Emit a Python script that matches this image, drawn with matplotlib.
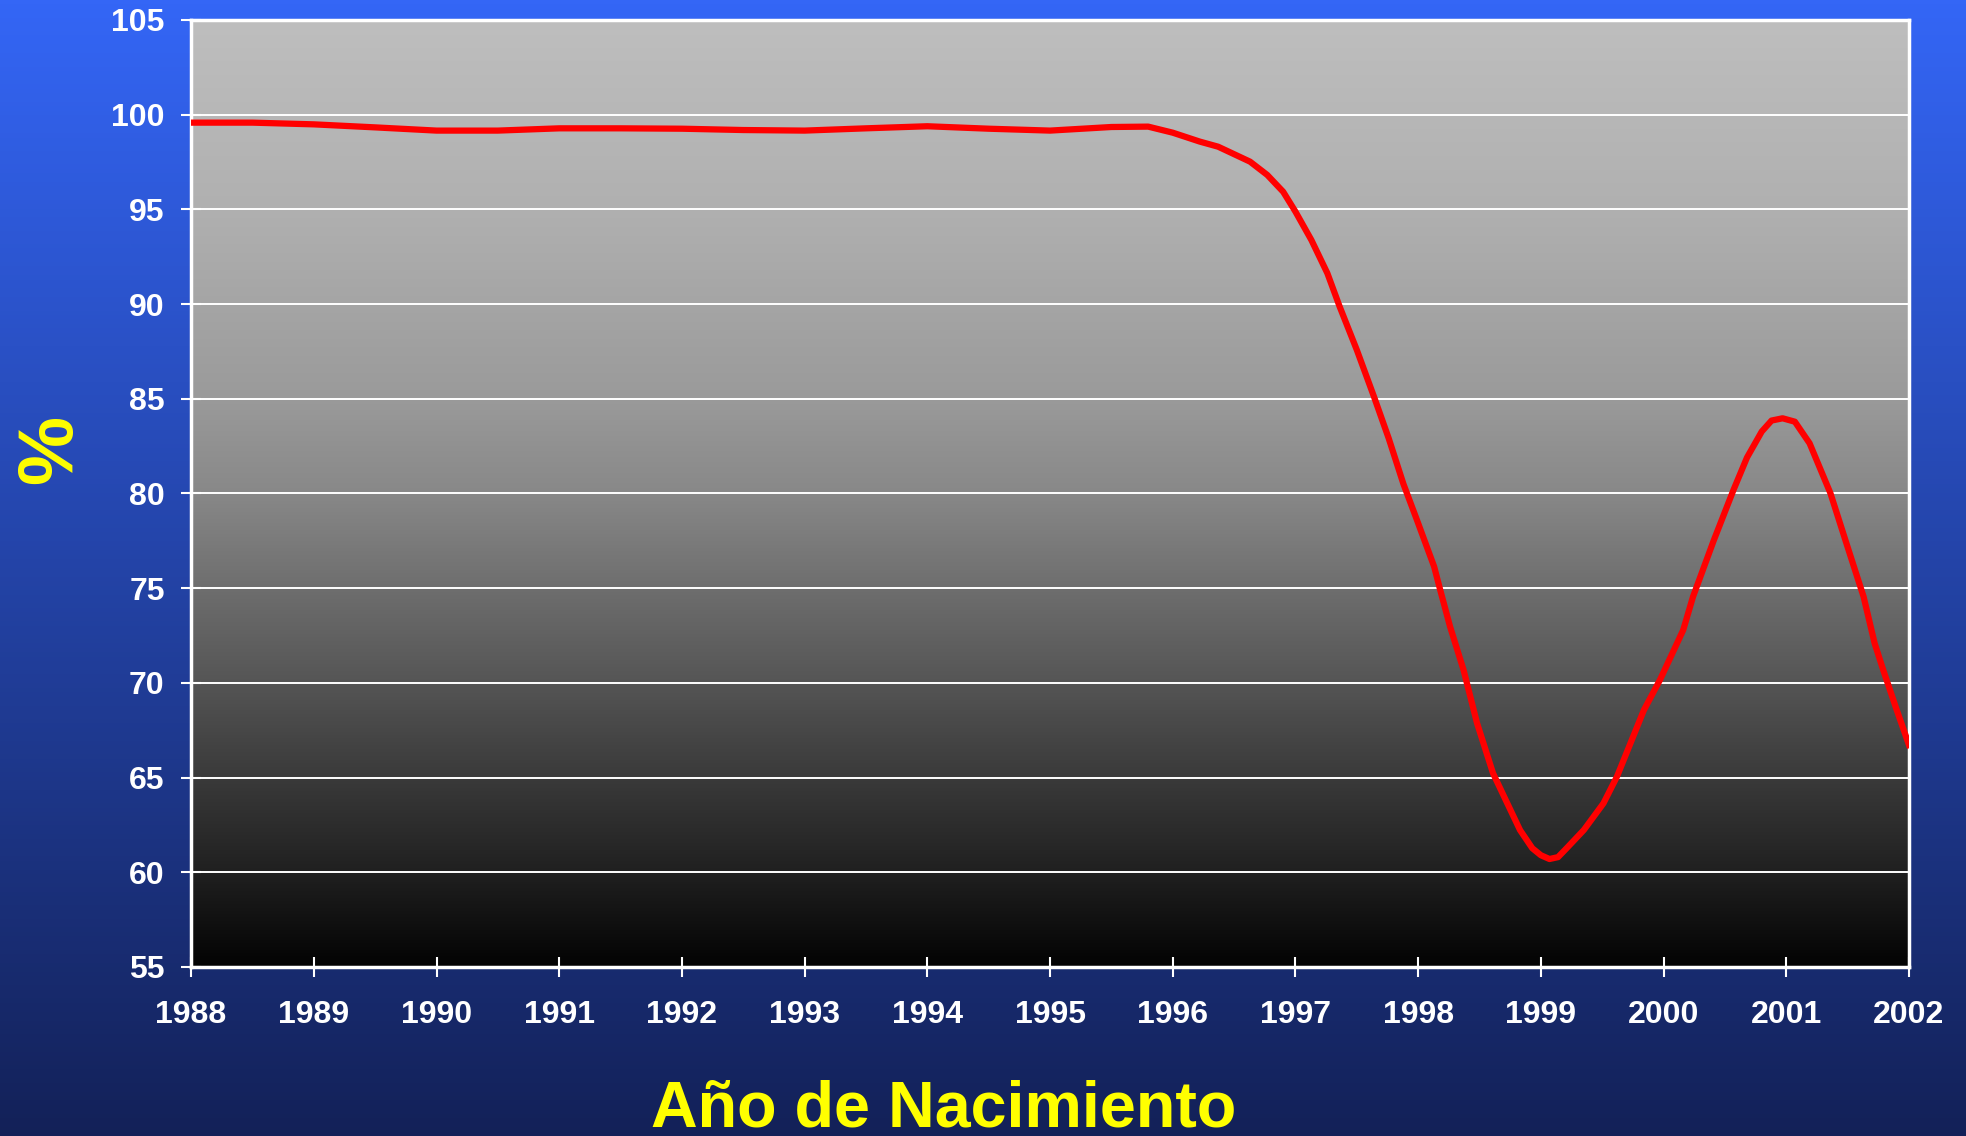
import numpy as np
import matplotlib
matplotlib.use("Agg")
import matplotlib.pyplot as plt

# Values (birth year vs percent)
years = [1988.0, 1988.5, 1989.0, 1989.5, 1990.0, 1990.5, 1991.0, 1991.5,
         1992.0, 1992.5, 1993.0, 1993.5, 1994.0, 1994.5, 1995.0, 1995.5,
         1995.8, 1996.0, 1996.22, 1996.37, 1996.63, 1996.77, 1996.9, 1997.0,
         1997.13, 1997.26, 1997.36, 1997.5, 1997.64, 1997.76, 1997.88, 1997.99,
         1998.13, 1998.18, 1998.26, 1998.37, 1998.48, 1998.61, 1998.7, 1998.83,
         1998.93, 1999.0, 1999.07, 1999.14, 1999.21, 1999.35, 1999.51, 1999.62,
         1999.84, 1999.97, 2000.16, 2000.24, 2000.41, 2000.57, 2000.68, 2000.8,
         2000.88, 2000.97, 2001.07, 2001.19, 2001.36, 2001.49, 2001.63, 2001.72,
         2001.79, 2001.9, 2002.0]
percent = [99.58, 99.58, 99.49, 99.33, 99.16, 99.16, 99.28, 99.28,
           99.26, 99.19, 99.16, 99.28, 99.39, 99.26, 99.16, 99.35,
           99.37, 99.05, 98.58, 98.31, 97.52, 96.82, 95.93, 94.88,
           93.38, 91.63, 89.87, 87.58, 85.11, 82.91, 80.5, 78.6,
           76.14, 74.9, 72.97, 70.68, 67.87, 65.23, 64.0, 62.23,
           61.27, 60.9, 60.7, 60.8, 61.27, 62.23, 63.64, 65.05,
           68.57, 70.15, 72.79, 74.55, 77.54, 80.19, 81.9, 83.27,
           83.85, 83.97, 83.79, 82.65, 80.01, 77.37, 74.55, 72.09,
           70.68, 68.57, 66.72]
year_ticks = list(range(1988, 2003))
pct_ticks = list(range(55, 106, 5))

plt.rcParams['font.family'] = ['Liberation Sans', 'DejaVu Sans']

fig = plt.figure(figsize=(19.66, 11.36), dpi=100)

# blue slide background, lighter at the top
bg = fig.add_axes([0, 0, 1, 1], zorder=-10)
t = np.linspace(0, 1, 256)[:, None, None]
top = np.array([52, 102, 246]) / 255
bot = np.array([19, 33, 88]) / 255
bg.imshow(top + (bot - top) * t, aspect='auto', extent=[0, 1, 0, 1])
bg.axis('off')

ax = fig.add_axes([0.0972, 0.1488, 0.8738, 0.8336])
ax.set_facecolor('none')

# grey to black plot area
stops = [0, 0.2, 0.4, 0.5, 0.6, 0.7, 0.8, 0.9, 1.0]
greys = [190, 176, 154, 136, 110, 85, 58, 32, 3]
g = np.interp(np.linspace(0, 1, 512), stops, greys) / 255
grad = np.repeat(g[:, None, None], 3, axis=2)
ax.imshow(grad, aspect='auto', extent=[0, 1, 0, 1], transform=ax.transAxes, zorder=0)

ax.plot(years, percent, color='#ff0000', lw=4.5, zorder=3, solid_joinstyle='round')

ax.set_xlim(1988, 2002)
ax.set_ylim(55, 105)
ax.set_xticks(year_ticks)
ax.set_yticks(pct_ticks)
ax.grid(axis='y', color='white', lw=1.4, zorder=1)

ax.tick_params(colors='white', labelsize=23, width=1.5, length=14, direction='inout')
ax.tick_params(axis='x', pad=17)
ax.tick_params(axis='y', pad=12)
for lab in ax.get_xticklabels() + ax.get_yticklabels():
    lab.set_fontweight('bold')
for sp in ax.spines.values():
    sp.set_color('white')
    sp.set_linewidth(2.5)

fig.text(0.480, 0.008, 'Año de Nacimiento', color='#ffff00', fontsize=46.5,
         fontweight='bold', ha='center', va='baseline')
fig.text(0.0255, 0.604, '%', color='#ffff00', fontsize=56, fontweight='bold',
         rotation=90, ha='center', va='center')

fig.savefig('out.png', dpi=100)
